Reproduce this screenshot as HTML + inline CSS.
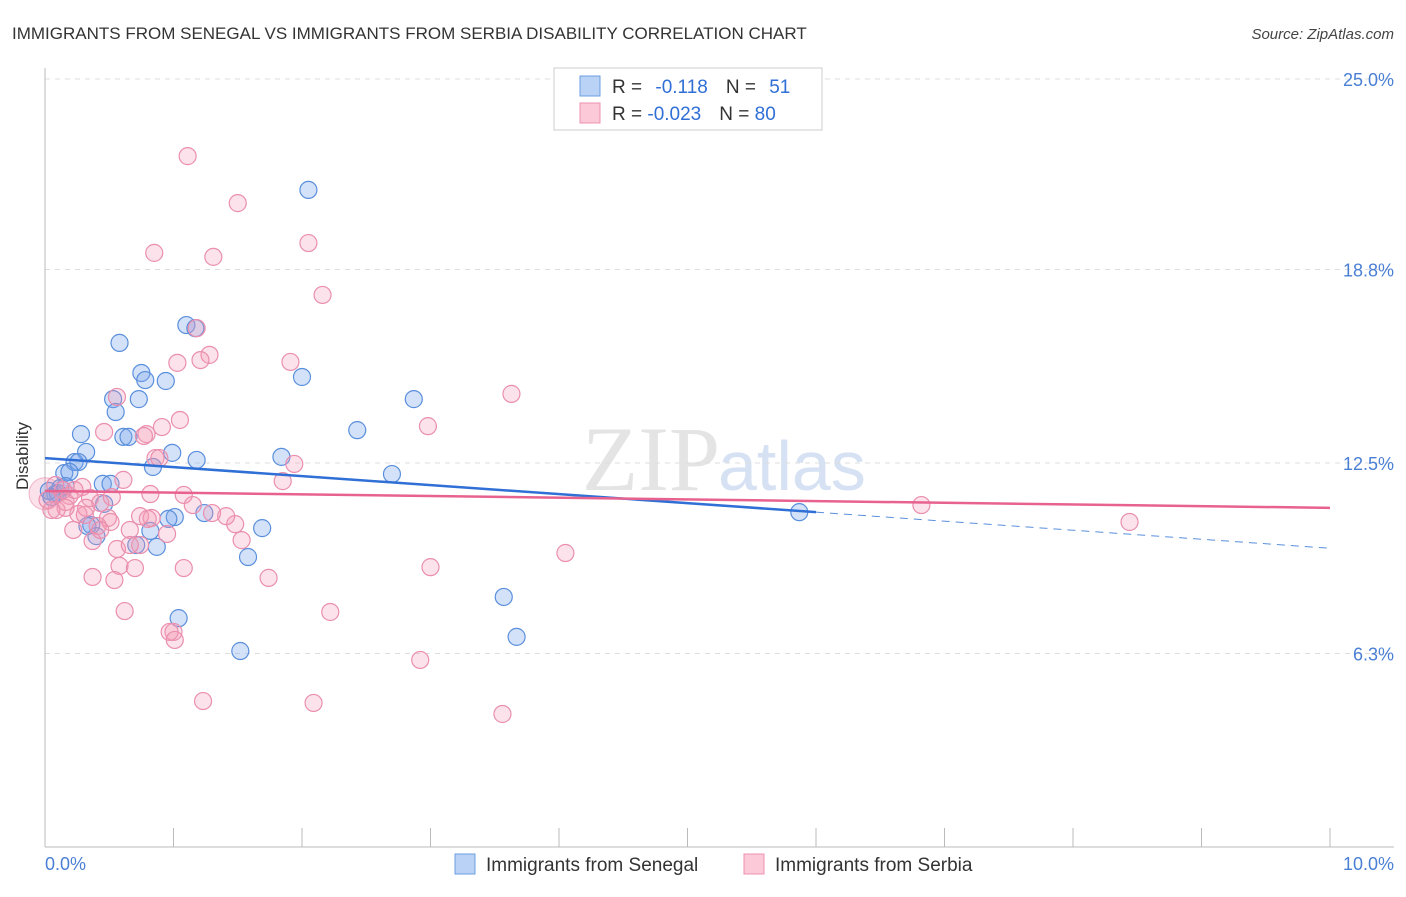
<!DOCTYPE html>
<html><head><meta charset="utf-8"><style>
body{margin:0;background:#fff;font-family:"Liberation Sans",sans-serif;}
</style></head><body>
<svg width="1406" height="892" xmlns="http://www.w3.org/2000/svg" style="font-family:'Liberation Sans',sans-serif">
<text x="12" y="39" font-size="17" fill="#333">IMMIGRANTS FROM SENEGAL VS IMMIGRANTS FROM SERBIA DISABILITY CORRELATION CHART</text>
<text x="1394" y="39" font-size="15" fill="#444" text-anchor="end" font-style="italic">Source: ZipAtlas.com</text>
<text x="720" y="490" font-size="92" fill="#e4e4e4" text-anchor="end" font-family="Liberation Serif">ZIP</text>
<text x="718" y="490" font-size="70" fill="#d6e2f3">atlas</text>
<g id="grid"></g><g id="axes"></g><g id="pts"></g><g id="trend"></g>
<text x="28" y="456" font-size="17" fill="#333" text-anchor="middle" transform="rotate(-90 28 456)">Disability</text>
<text x="45" y="870" font-size="18" fill="#4a7fd4">0.0%</text>
<text x="1394" y="870" font-size="18" fill="#4a7fd4" text-anchor="end">10.0%</text>
<g>
<rect x="554" y="68" width="268" height="62" fill="#fff" stroke="#ccc"/>
<rect x="580" y="76" width="20" height="20" fill="#b9d2f5" stroke="#6c9ee0"/>
<rect x="580" y="103" width="20" height="20" fill="#fbc9d8" stroke="#ec92b0"/>
<text x="612" y="93" font-size="19" fill="#333">R = <tspan fill="#2f6fd6" dx="8">-0.118</tspan><tspan dx="18" fill="#333">N = </tspan><tspan fill="#2f6fd6" dx="8">51</tspan></text>
<text x="612" y="120" font-size="19" fill="#333">R = <tspan fill="#2f6fd6">-0.023</tspan><tspan dx="18" fill="#333">N = </tspan><tspan fill="#2f6fd6">80</tspan></text>
</g>
<g>
<rect x="455" y="854" width="20" height="20" fill="#b9d2f5" stroke="#6c9ee0"/>
<text x="486" y="871" font-size="19" fill="#333">Immigrants from Senegal</text>
<rect x="744" y="854" width="20" height="20" fill="#fbc9d8" stroke="#ec92b0"/>
<text x="775" y="871" font-size="19" fill="#333">Immigrants from Serbia</text>
</g>
</svg>
<script>
const yTicks=[25.0,18.8,12.5,6.3];
const yTickLabels=["25.0%","18.8%","12.5%","6.3%"];
const xTicks=[0,1,2,3,4,5,6,7,8,9,10];
const senegalX=[2.05,1.10,1.17,0.58,0.75,0.94,0.78,2.00,0.53,0.73,0.55,2.87,0.28,0.61,0.65,2.43,0.32,0.99,1.18,1.84,0.23,0.26,0.84,0.15,0.19,2.70,0.45,0.51,0.12,0.08,0.03,0.46,1.01,0.96,1.24,1.69,0.36,0.40,0.82,0.71,0.87,1.58,5.87,3.57,1.04,3.67,1.52,0.33,0.10,0.16,0.05];
const senegalY=[21.39,16.99,16.89,16.41,15.43,15.17,15.20,15.30,14.58,14.58,14.16,14.58,13.44,13.35,13.35,13.57,12.86,12.83,12.60,12.70,12.53,12.53,12.37,12.17,12.21,12.14,11.82,11.82,11.69,11.49,11.59,11.17,10.74,10.68,10.87,10.38,10.48,10.12,10.29,9.83,9.77,9.44,10.90,8.14,7.45,6.84,6.38,10.45,11.52,11.75,11.39];
const serbiaX=[1.11,1.50,2.05,0.85,1.31,2.16,1.18,1.28,1.21,1.91,1.03,3.63,0.56,1.05,2.98,0.91,0.79,0.46,0.86,1.94,0.89,1.85,0.61,0.29,0.82,1.08,0.19,0.16,0.35,0.43,1.15,0.09,0.02,0.26,0.51,0.74,0.83,1.48,0.22,0.41,0.66,0.95,0.37,1.53,0.56,0.74,0.58,6.82,8.44,4.05,3.00,1.08,0.70,0.37,1.74,0.54,0.62,2.22,1.00,0.97,1.01,2.92,1.23,2.09,3.56,0.16,0.23,0.05,0.31,0.49,0.66,0.14,1.41,1.30,0.08,0.52,0.80,0.77,0.32,0.43];
const serbiaY=[22.49,20.96,19.66,19.34,19.21,17.97,16.89,16.02,15.85,15.79,15.76,14.75,14.65,13.90,13.70,13.67,13.44,13.51,12.66,12.47,12.66,11.91,11.95,11.72,11.49,11.46,11.43,11.23,11.36,11.20,11.13,10.97,11.30,10.84,10.58,10.77,10.71,10.51,10.32,10.45,10.32,10.19,9.96,9.99,9.70,9.83,9.15,11.13,10.58,9.57,9.11,9.08,9.08,8.79,8.76,8.69,7.68,7.65,7.00,7.00,6.74,6.09,4.75,4.69,4.33,11.04,11.62,10.97,10.81,10.71,9.83,11.62,10.77,10.87,11.78,11.39,10.68,13.38,11.04,10.32];
const senegalTrend=[12.66,10.90,9.73];
const senegalTrendX=[0,6.0,9.98];
const serbiaTrend=[11.59,11.04];
const serbiaTrendX=[0,10];
const NS="http://www.w3.org/2000/svg";
const X=v=>45+v*128.5, Y=v=>847-v*30.72;
function mk(tag,parent,attrs){const e=document.createElementNS(NS,tag);for(const k in attrs)e.setAttribute(k,attrs[k]);document.getElementById(parent).appendChild(e);return e;}
yTicks.forEach((t,i)=>{
 const l=mk('line','grid',{x1:45,x2:1394,y1:Y(t),y2:Y(t),stroke:'#ddd','stroke-dasharray':'5,5'});
 
 
 const tx=mk('text','grid',{x:1394,y:Y(t)+7,'font-size':18,fill:'#4a7fd4','text-anchor':'end'});
 tx.textContent=yTickLabels[i];
 
 
});
const ax=mk('line','axes',{x1:45,x2:45,y1:68,y2:847,stroke:'#bbb'});


const bx=mk('line','axes',{x1:45,x2:1394,y1:847,y2:847,stroke:'#bbb'});


xTicks.forEach(t=>{
 const l=mk('line','axes',{x1:X(t),x2:X(t),y1:828,y2:847,stroke:'#bbb'});
 
 
});
const b1=mk('circle','pts',{cx:X(0),cy:Y(11.5),r:16,fill:'rgba(240,140,170,0.25)',stroke:'rgba(232,120,160,0.5)'});


senegalX.forEach((x,i)=>{
 const c=mk('circle','pts',{cx:X(x),cy:Y(senegalY[i]),r:8.5,fill:'rgba(120,165,235,0.32)',stroke:'#5a8fdc','stroke-width':1.2});
 
 
});
serbiaX.forEach((x,i)=>{
 const c=mk('circle','pts',{cx:X(x),cy:Y(serbiaY[i]),r:8.5,fill:'rgba(245,150,180,0.28)',stroke:'#ea8fae','stroke-width':1.2});
 
 
});
const t1=mk('line','trend',{x1:X(senegalTrendX[0]),y1:Y(senegalTrend[0]),x2:X(senegalTrendX[1]),y2:Y(senegalTrend[1]),stroke:'#2f6fd6','stroke-width':2.5});


const t2=mk('line','trend',{x1:X(senegalTrendX[1]),y1:Y(senegalTrend[1]),x2:X(senegalTrendX[2]),y2:Y(senegalTrend[2]),stroke:'#5a8fdc','stroke-width':1,'stroke-dasharray':'8,6'});


const t3=mk('line','trend',{x1:X(serbiaTrendX[0]),y1:Y(serbiaTrend[0]),x2:X(serbiaTrendX[1]),y2:Y(serbiaTrend[1]),stroke:'#e8628f','stroke-width':2.5});


</script>
</body></html>
